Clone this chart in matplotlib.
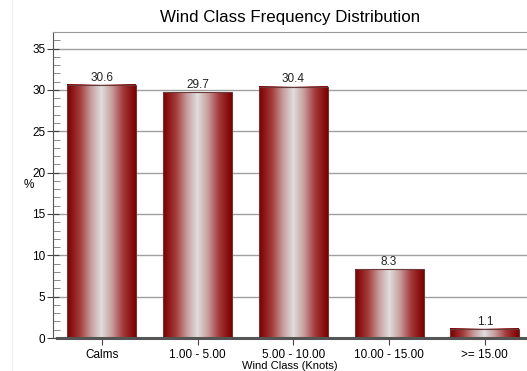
import numpy as np
import matplotlib
matplotlib.use("Agg")
import matplotlib.pyplot as plt
from matplotlib.colors import LinearSegmentedColormap
from matplotlib.lines import Line2D

plt.rcParams['font.family'] = ['Liberation Sans', 'DejaVu Sans']

categories = ["Calms", "1.00 - 5.00", "5.00 - 10.00", "10.00 - 15.00", ">= 15.00"]
values = [30.6, 29.7, 30.4, 8.3, 1.1]
labels = ["30.6", "29.7", "30.4", "8.3", "1.1"]

fig = plt.figure(figsize=(5.27, 3.71), dpi=100)
ax = fig.add_axes([0.1006, 0.0889, 0.8994, 0.8248])

# bar gradient: dark red at edges, light grey in the middle
cmap = LinearSegmentedColormap.from_list("bar", ["#7e0000", "#a33a3a", "#c89a9a", "#dedede"])
xs = np.linspace(0, 1, 200)
grad = (1 - np.abs(2 * xs - 1)) ** 1.1
grad = grad.reshape(1, -1)

width = 0.72
x = np.arange(len(categories))
for xi, v, lab in zip(x, values, labels):
    ax.imshow(grad, cmap=cmap, aspect="auto", interpolation="bilinear",
              extent=(xi - width / 2, xi + width / 2, 0, v), zorder=2)
    ax.add_patch(plt.Rectangle((xi - width / 2, 0), width, v, fill=False,
                               edgecolor="#6a3a3a", linewidth=0.8, zorder=3))
    ax.text(xi, v + 0.15, lab, ha="center", va="bottom", fontsize=8.5, color="#222222")

ax.set_xlim(-0.51, 4.44)
ax.set_ylim(0, 37)
ax.set_yticks(np.arange(0, 36, 5))
ax.set_yticks(np.arange(0, 37, 1), minor=True)
ax.set_xticks(x)
ax.set_xticklabels(categories, fontsize=8.5)
ax.tick_params(axis="y", which="major", direction="inout", length=9, labelsize=8.5,
               color="#444444", pad=1)
ax.tick_params(axis="y", which="minor", direction="in", length=5, color="#777777")
ax.tick_params(axis="x", direction="inout", length=10, color="#444444", pad=3)

ax.yaxis.grid(True, color="#a0a0a0", linewidth=1.0, zorder=0)
ax.set_axisbelow(True)

ax.spines["right"].set_visible(False)
ax.spines["top"].set_color("#999999")
ax.spines["left"].set_color("#555555")
ax.spines["bottom"].set_color("#555555")
ax.spines["bottom"].set_linewidth(2.2)
ax.spines["bottom"].set_bounds(-0.47, 4.44)

ax.set_title("Wind Class Frequency Distribution", fontsize=12.2, pad=7)
ax.set_xlabel("Wind Class (Knots)", fontsize=8, labelpad=0)
ax.set_ylabel("%", fontsize=8.5, rotation=0, va="center", ha="center")
ax.yaxis.set_label_coords(-0.052, 0.5)

fig.add_artist(Line2D([12 / 527, 12 / 527], [0.0, 1.0], color="#eeeeee", linewidth=0.8))

fig.savefig("out.png", dpi=100)
